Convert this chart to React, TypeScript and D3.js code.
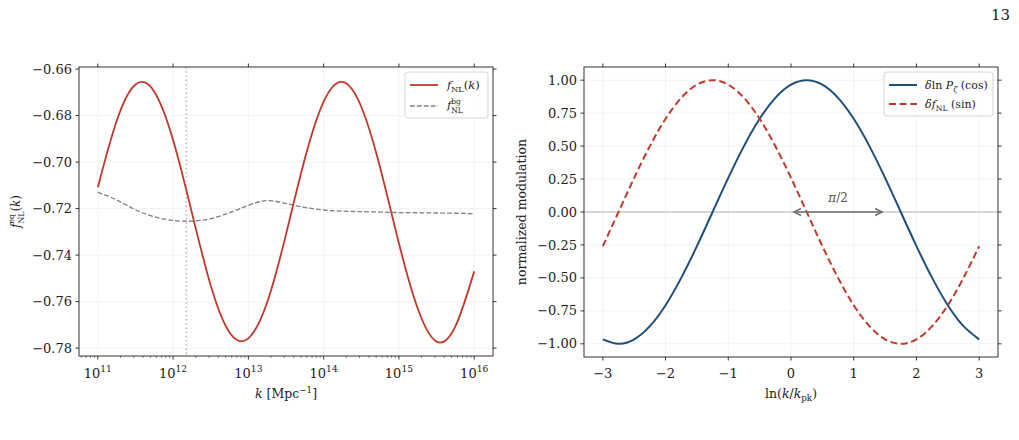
import React, { useEffect, useRef } from "react";
import * as d3 from "d3";

// Left panel: f_NL^eq(k) on a log10 k grid
const logK = [11, 11.25, 11.5, 11.75, 12, 12.25, 12.5, 12.75, 13, 13.25, 13.5, 13.75, 14, 14.25, 14.5, 14.75, 15, 15.25, 15.5, 15.75, 16];
const fNL = [-0.7108, -0.6823, -0.6666, -0.6697, -0.6905, -0.7218, -0.7531, -0.7733, -0.7758, -0.7603, -0.7311, -0.6986, -0.674, -0.6655, -0.6762, -0.7023, -0.7349, -0.763, -0.7772, -0.7707, -0.747];
const fBg = [-0.713, -0.7163, -0.7205, -0.7235, -0.7251, -0.7254, -0.7243, -0.7218, -0.7186, -0.7166, -0.7178, -0.7195, -0.7206, -0.7211, -0.7213, -0.7215, -0.7217, -0.7218, -0.7219, -0.722, -0.7222];
const kPeak = 1.5e12;
const leftXExponents = [11, 12, 13, 14, 15, 16];
const leftYTicks = [-0.66, -0.68, -0.7, -0.72, -0.74, -0.76, -0.78];

// Right panel: normalized modulations vs ln(k/k_pk)
const lnRatio = [-3, -2.75, -2.5, -2.25, -2, -1.75, -1.5, -1.25, -1, -0.75, -0.5, -0.25, 0, 0.25, 0.5, 0.75, 1, 1.25, 1.5, 1.75, 2, 2.25, 2.5, 2.75, 3];
const cosMod = [-0.966, -1, -0.966, -0.866, -0.707, -0.5, -0.259, 0, 0.259, 0.5, 0.707, 0.866, 0.966, 1, 0.966, 0.866, 0.707, 0.5, 0.259, 0, -0.259, -0.5, -0.707, -0.866, -0.966];
const sinMod = [-0.259, 0, 0.259, 0.5, 0.707, 0.866, 0.966, 1, 0.966, 0.866, 0.707, 0.5, 0.259, 0, -0.259, -0.5, -0.707, -0.866, -0.966, -1, -0.966, -0.866, -0.707, -0.5, -0.259];
const rightXTicks = [-3, -2, -1, 0, 1, 2, 3];
const rightYTicks = [1, 0.75, 0.5, 0.25, 0, -0.25, -0.5, -0.75, -1];
const phaseShift = [0, 1.5];

const RED = "#c0392b";
const BLUE = "#1f4e79";
const FONT = "DejaVu Serif";

type Part = { t: string; it?: boolean; sz?: number; off?: number; back?: boolean };

// text with italic / sub / superscript pieces
function rich(g: any, x: number, y: number, parts: Part[], size: number, anchor = "start") {
  const text = g
    .append("text")
    .attr("x", x)
    .attr("y", y)
    .attr("font-size", size)
    .attr("font-family", FONT)
    .attr("text-anchor", anchor)
    .attr("fill", "#222");
  let prev = 0;
  let prevNode: any = null;
  parts.forEach((p) => {
    const off = p.off ?? 0;
    const ts = text
      .append("tspan")
      .attr("dy", off - prev)
      .attr("font-size", (p.sz ?? 1) * size)
      .attr("font-style", p.it ? "italic" : "normal")
      .text(p.t);
    if (p.back && prevNode) ts.attr("dx", -prevNode.getComputedTextLength());
    prev = off;
    prevNode = ts.node();
  });
  return text;
}

const App: React.FC = () => {
  const svgRef = useRef<SVGSVGElement>(null);

  useEffect(() => {
    if (!svgRef.current) return;
    document.body.style.margin = "0";
    const svg = d3.select(svgRef.current);
    svg.selectAll("*").remove();

    const gridColor = "#efefef";
    const frameColor = "#333";

    // page number
    svg.append("text").attr("x", 1010).attr("y", 20).attr("text-anchor", "end")
      .attr("font-family", FONT).attr("font-size", 15).attr("fill", "#222").text("13");

    // ---------- left panel ----------
    const L = { x0: 79, x1: 493, y0: 67, y1: 356 };
    const xL = d3.scaleLog().domain([10 ** 10.75, 10 ** 16.25]).range([L.x0, L.x1]);
    const yL = d3.scaleLinear().domain([-0.7834, -0.6591]).range([L.y1, L.y0]);
    const gL = svg.append("g");

    leftXExponents.forEach((e) => {
      gL.append("line").attr("x1", xL(10 ** e)).attr("x2", xL(10 ** e)).attr("y1", L.y0).attr("y2", L.y1)
        .attr("stroke", gridColor).attr("stroke-width", 0.8);
    });
    leftYTicks.forEach((v) => {
      gL.append("line").attr("x1", L.x0).attr("x2", L.x1).attr("y1", yL(v)).attr("y2", yL(v))
        .attr("stroke", gridColor).attr("stroke-width", 0.8);
    });

    // k_pk marker
    gL.append("line").attr("x1", xL(kPeak)).attr("x2", xL(kPeak)).attr("y1", L.y0).attr("y2", L.y1)
      .attr("stroke", "#bbb").attr("stroke-width", 1.6).attr("stroke-dasharray", "1.6,2.6");

    const lineL = (vals: number[]) =>
      d3.line<number>()
        .x((_, i) => xL(10 ** logK[i]))
        .y((d) => yL(d))
        .curve(d3.curveNatural)(vals);

    gL.append("path").attr("d", lineL(fBg)).attr("fill", "none").attr("stroke", "#808080")
      .attr("stroke-width", 1.3).attr("stroke-dasharray", "4.8,2.1");
    gL.append("path").attr("d", lineL(fNL)).attr("fill", "none").attr("stroke", RED)
      .attr("stroke-width", 1.8);

    gL.append("rect").attr("x", L.x0).attr("y", L.y0).attr("width", L.x1 - L.x0).attr("height", L.y1 - L.y0)
      .attr("fill", "none").attr("stroke", frameColor).attr("stroke-width", 1);

    // major ticks on all sides, minor on bottom
    leftXExponents.forEach((e) => {
      const x = xL(10 ** e);
      gL.append("line").attr("x1", x).attr("x2", x).attr("y1", L.y1).attr("y2", L.y1 + 3.5).attr("stroke", frameColor);
      gL.append("line").attr("x1", x).attr("x2", x).attr("y1", L.y0).attr("y2", L.y0 - 3.5).attr("stroke", frameColor);
      rich(gL, x, 378, [{ t: "10" }, { t: String(e), sz: 0.7, off: -6 }], 13, "middle");
    });
    for (let e = 10; e <= 16; e++) {
      for (let m = 2; m <= 9; m++) {
        const k = m * 10 ** e;
        if (k < xL.domain()[0] || k > xL.domain()[1]) continue;
        const x = xL(k);
        gL.append("line").attr("x1", x).attr("x2", x).attr("y1", L.y1).attr("y2", L.y1 + 2).attr("stroke", frameColor).attr("stroke-width", 0.6);
      }
    }
    leftYTicks.forEach((v) => {
      const y = yL(v);
      gL.append("line").attr("x1", L.x0).attr("x2", L.x0 - 3.5).attr("y1", y).attr("y2", y).attr("stroke", frameColor);
      gL.append("line").attr("x1", L.x1).attr("x2", L.x1 + 3.5).attr("y1", y).attr("y2", y).attr("stroke", frameColor);
      gL.append("text").attr("x", L.x0 - 7).attr("y", y).attr("dy", "0.35em").attr("text-anchor", "end")
        .attr("font-family", FONT).attr("font-size", 13).attr("fill", "#222").text(d3.format(".2f")(v));
    });

    rich(gL, (L.x0 + L.x1) / 2, 398, [{ t: "k", it: true }, { t: " [Mpc" }, { t: "−1", sz: 0.7, off: -5 }, { t: "]", off: 0 }], 12.5, "middle");
    const yLab = rich(gL, 0, 0, [
      { t: "f", it: true }, { t: "eq", sz: 0.65, off: -6 }, { t: "NL", sz: 0.65, off: 3.5, back: true },
      { t: "(", off: 0 }, { t: "k", it: true }, { t: ")" },
    ], 12, "middle");
    yLab.attr("transform", `translate(20,${(L.y0 + L.y1) / 2}) rotate(-90)`);

    // legend
    const lgL = gL.append("g");
    lgL.append("rect").attr("x", 405).attr("y", 72).attr("width", 83).attr("height", 46).attr("rx", 3)
      .attr("fill", "white").attr("fill-opacity", 0.85).attr("stroke", "#ccc").attr("stroke-width", 0.8);
    lgL.append("line").attr("x1", 410).attr("x2", 438).attr("y1", 85).attr("y2", 85).attr("stroke", RED).attr("stroke-width", 1.8);
    lgL.append("line").attr("x1", 410).attr("x2", 438).attr("y1", 106).attr("y2", 106).attr("stroke", "#808080")
      .attr("stroke-width", 1.3).attr("stroke-dasharray", "4.8,2.1");
    rich(lgL, 447, 89, [{ t: "f", it: true }, { t: "NL", sz: 0.7, off: 3 }, { t: "(", off: 0 }, { t: "k", it: true }, { t: ")" }], 11.5);
    rich(lgL, 447, 109, [{ t: "f", it: true }, { t: "bg", sz: 0.65, off: -5.5 }, { t: "NL", sz: 0.65, off: 3.5, back: true }], 11.5);

    // ---------- right panel ----------
    const R = { x0: 584, x1: 998, y0: 67, y1: 357 };
    const xR = d3.scaleLinear().domain([-3.3, 3.3]).range([R.x0, R.x1]);
    const yR = d3.scaleLinear().domain([-1.1, 1.1]).range([R.y1, R.y0]);
    const gR = svg.append("g");

    rightXTicks.forEach((v) => {
      gR.append("line").attr("x1", xR(v)).attr("x2", xR(v)).attr("y1", R.y0).attr("y2", R.y1)
        .attr("stroke", gridColor).attr("stroke-width", 0.8);
    });
    rightYTicks.forEach((v) => {
      gR.append("line").attr("x1", R.x0).attr("x2", R.x1).attr("y1", yR(v)).attr("y2", yR(v))
        .attr("stroke", gridColor).attr("stroke-width", 0.8);
    });
    gR.append("line").attr("x1", R.x0).attr("x2", R.x1).attr("y1", yR(0)).attr("y2", yR(0))
      .attr("stroke", "#b3b3b3").attr("stroke-width", 1.2);

    const lineR = (vals: number[]) =>
      d3.line<number>()
        .x((_, i) => xR(lnRatio[i]))
        .y((d) => yR(d))
        .curve(d3.curveNatural)(vals);

    gR.append("path").attr("d", lineR(cosMod)).attr("fill", "none").attr("stroke", BLUE).attr("stroke-width", 2);
    gR.append("path").attr("d", lineR(sinMod)).attr("fill", "none").attr("stroke", RED).attr("stroke-width", 2)
      .attr("stroke-dasharray", "7,3.6");

    // pi/2 phase arrow
    const ax0 = xR(phaseShift[0]) + 3;
    const ax1 = xR(phaseShift[1]) - 3;
    const ay = yR(0);
    const arrowColor = "#6e6e6e";
    gR.append("line").attr("x1", ax0).attr("x2", ax1).attr("y1", ay).attr("y2", ay).attr("stroke", arrowColor).attr("stroke-width", 1.5);
    gR.append("path").attr("d", `M${ax0 + 7},${ay - 3.5}L${ax0},${ay}L${ax0 + 7},${ay + 3.5}`)
      .attr("fill", "none").attr("stroke", arrowColor).attr("stroke-width", 1.5);
    gR.append("path").attr("d", `M${ax1 - 7},${ay - 3.5}L${ax1},${ay}L${ax1 - 7},${ay + 3.5}`)
      .attr("fill", "none").attr("stroke", arrowColor).attr("stroke-width", 1.5);
    rich(gR, xR((phaseShift[0] + phaseShift[1]) / 2), 202, [{ t: "π", it: true }, { t: "/2" }], 12, "middle").attr("fill", "#555");

    gR.append("rect").attr("x", R.x0).attr("y", R.y0).attr("width", R.x1 - R.x0).attr("height", R.y1 - R.y0)
      .attr("fill", "none").attr("stroke", frameColor).attr("stroke-width", 1);

    rightXTicks.forEach((v) => {
      const x = xR(v);
      gR.append("line").attr("x1", x).attr("x2", x).attr("y1", R.y1).attr("y2", R.y1 + 3.5).attr("stroke", frameColor);
      gR.append("line").attr("x1", x).attr("x2", x).attr("y1", R.y0).attr("y2", R.y0 - 3.5).attr("stroke", frameColor);
      gR.append("text").attr("x", x).attr("y", 378).attr("text-anchor", "middle")
        .attr("font-family", FONT).attr("font-size", 13).attr("fill", "#222").text(d3.format("d")(v));
    });
    rightYTicks.forEach((v) => {
      const y = yR(v);
      gR.append("line").attr("x1", R.x0).attr("x2", R.x0 - 3.5).attr("y1", y).attr("y2", y).attr("stroke", frameColor);
      gR.append("line").attr("x1", R.x1).attr("x2", R.x1 + 3.5).attr("y1", y).attr("y2", y).attr("stroke", frameColor);
      gR.append("text").attr("x", R.x0 - 7).attr("y", y).attr("dy", "0.35em").attr("text-anchor", "end")
        .attr("font-family", FONT).attr("font-size", 13).attr("fill", "#222").text(d3.format(".2f")(v));
    });

    rich(gR, (R.x0 + R.x1) / 2, 398, [
      { t: "ln(" }, { t: "k", it: true }, { t: "/" }, { t: "k", it: true }, { t: "pk", sz: 0.7, off: 3 }, { t: ")", off: 0 },
    ], 12.5, "middle");
    gR.append("text").attr("transform", `translate(526,${(R.y0 + R.y1) / 2}) rotate(-90)`)
      .attr("text-anchor", "middle").attr("font-family", FONT).attr("font-size", 12.5).attr("fill", "#222")
      .text("normalized modulation");

    const lgR = gR.append("g");
    lgR.append("rect").attr("x", 884).attr("y", 72).attr("width", 109).attr("height", 44).attr("rx", 3)
      .attr("fill", "white").attr("fill-opacity", 0.85).attr("stroke", "#ccc").attr("stroke-width", 0.8);
    lgR.append("line").attr("x1", 889).attr("x2", 917).attr("y1", 85).attr("y2", 85).attr("stroke", BLUE).attr("stroke-width", 2);
    lgR.append("line").attr("x1", 889).attr("x2", 917).attr("y1", 104).attr("y2", 104).attr("stroke", RED)
      .attr("stroke-width", 2).attr("stroke-dasharray", "7,3.6");
    rich(lgR, 925, 89, [
      { t: "δ", it: true }, { t: "ln " }, { t: "P", it: true }, { t: "ζ", it: true, sz: 0.7, off: 3 }, { t: " (cos)", off: 0 },
    ], 11);
    rich(lgR, 925, 108, [{ t: "δ", it: true }, { t: "f", it: true }, { t: "NL", sz: 0.7, off: 3 }, { t: " (sin)", off: 0 }], 11);
  }, []);

  return <svg ref={svgRef} width={1019} height={440} style={{ display: "block", background: "white" }}></svg>;
};

export default App;
